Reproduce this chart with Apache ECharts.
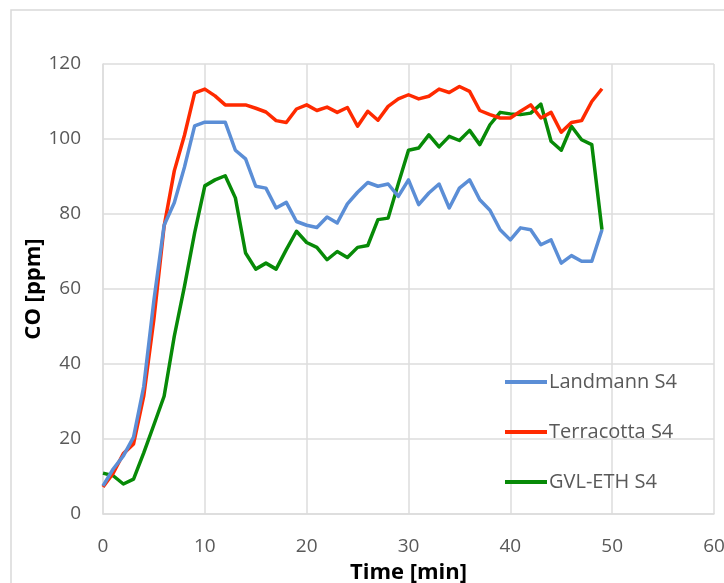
<!DOCTYPE html>
<html>
<head>
<meta charset="utf-8">
<script src="https://cdn.jsdelivr.net/npm/echarts@6/dist/echarts.min.js"></script>
<style>
  html, body { margin: 0; padding: 0; background: #ffffff; }
  #chart { width: 724px; height: 583px; }
</style>
</head>
<body>
<div id="chart"></div>
<script>
// Sampling times in minutes
const minutes = [0, 1, 2, 3, 4, 5, 6, 7, 8, 9, 10, 11, 12, 13, 14, 15, 16, 17, 18, 19,
  20, 21, 22, 23, 24, 25, 26, 27, 28, 29, 30, 31, 32, 33, 34, 35, 36, 37, 38, 39,
  40, 41, 42, 43, 44, 45, 46, 47, 48, 49];

// CO concentration in ppm for each stove
const landmann = [7.5, 12, 15.5, 20.5, 34, 57, 77, 83, 92.5, 103.5,
  104.5, 104.5, 104.5, 97, 94.7, 87.4, 86.9, 81.6, 83.1, 78,
  77, 76.4, 79.2, 77.6, 82.7, 85.8, 88.4, 87.4, 88, 84.7,
  89.1, 82.5, 85.6, 88, 81.6, 86.9, 89.1, 83.8, 81, 75.8,
  73.1, 76.3, 75.8, 71.8, 73.1, 66.9, 68.9, 67.4, 67.4, 75.8];

const terracotta = [7.2, 10.9, 16.1, 18.7, 31.4, 52, 76.7, 91.5, 101, 112.3,
  113.3, 111.5, 109.1, 109.1, 109.1, 108.2, 107.2, 104.9, 104.4, 108,
  109.1, 107.6, 108.5, 107.1, 108.4, 103.4, 107.4, 105, 108.7, 110.7,
  111.8, 110.7, 111.4, 113.3, 112.4, 114, 112.7, 107.6, 106.5, 105.6,
  105.6, 107.4, 109.1, 105.6, 107.1, 101.8, 104.4, 104.9, 110, 113.4];

const gvlEth = [10.9, 10.2, 8, 9.3, 16.3, 23.8, 31.4, 47.4, 60.7, 75,
  87.5, 89.1, 90.2, 84.3, 69.6, 65.3, 66.9, 65.3, 70.5, 75.4,
  72.4, 71.1, 67.8, 70, 68.4, 71.1, 71.6, 78.5, 78.9, 88.1,
  97, 97.6, 101.1, 97.9, 100.7, 99.6, 102.3, 98.5, 103.8, 107.1,
  106.7, 106.5, 106.9, 109.3, 99.4, 97, 103.4, 99.8, 98.5, 75.8];

const seriesNames = ['Landmann S4', 'Terracotta S4', 'GVL-ETH S4'];
const seriesColors = ['#5b8ed6', '#ff2a00', '#078a07'];
const seriesValues = [landmann, terracotta, gvlEth];

const xTicks = [0, 10, 20, 30, 40, 50, 60];
const yTicks = [0, 20, 40, 60, 80, 100, 120];

const labelFont = '"Open Sans", "Liberation Sans", sans-serif';
const gridColor = '#dcdcdc';

const chart = echarts.init(document.getElementById('chart'), null, { renderer: 'canvas' });

chart.setOption({
  animation: false,
  backgroundColor: '#ffffff',
  graphic: [{
    type: 'rect',
    shape: { x: 11, y: 10, width: 800, height: 800 },
    style: { fill: 'none', stroke: '#d9d9d9', lineWidth: 1.5 },
    z: -1
  }],
  grid: { left: 103, top: 64, width: 611, height: 450, containLabel: false, outerBoundsMode: 'none' },
  legend: {
    orient: 'vertical',
    left: 500,
    top: 367,
    itemGap: 30,
    itemWidth: 42,
    itemHeight: 4,
    icon: 'rect',
    data: seriesNames,
    textStyle: { fontFamily: labelFont, fontSize: 20, color: '#595959', padding: [0, 0, 0, -3] }
  },
  xAxis: {
    type: 'value',
    min: xTicks[0],
    max: xTicks[xTicks.length - 1],
    interval: 10,
    name: 'Time [min]',
    nameLocation: 'middle',
    nameGap: 48,
    nameMoveOverlap: false,
    nameTextStyle: { fontFamily: labelFont, fontSize: 22, fontWeight: 'bold', color: '#000000' },
    axisLine: { show: true, lineStyle: { color: gridColor, width: 1.5 } },
    axisTick: { show: false },
    splitLine: { show: true, lineStyle: { color: gridColor, width: 1.5 } },
    axisLabel: { margin: 23, fontFamily: labelFont, fontSize: 19, color: '#595959',
      formatter: v => xTicks.includes(v) ? String(v) : '' }
  },
  yAxis: {
    type: 'value',
    min: yTicks[0],
    max: yTicks[yTicks.length - 1],
    interval: 20,
    name: 'CO [ppm]',
    nameLocation: 'middle',
    nameGap: 58,
    nameMoveOverlap: false,
    nameRotate: 90,
    nameTextStyle: { fontFamily: labelFont, fontSize: 22, fontWeight: 'bold', color: '#000000' },
    axisLine: { show: true, lineStyle: { color: gridColor, width: 1.5 } },
    axisTick: { show: false },
    splitLine: { show: true, lineStyle: { color: gridColor, width: 1.5 } },
    axisLabel: { margin: 22, fontFamily: labelFont, fontSize: 19, color: '#595959',
      formatter: v => yTicks.includes(v) ? String(v) : '' }
  },
  series: seriesNames.map((name, i) => ({
    name: name,
    type: 'line',
    data: minutes.map((t, k) => [t, seriesValues[i][k]]),
    showSymbol: false,
    symbol: 'none',
    color: seriesColors[i],
    lineStyle: { color: seriesColors[i], width: 3.5, join: 'round' },
    z: 2 + (seriesNames.length - i)
  }))
});
</script>
</body>
</html>
